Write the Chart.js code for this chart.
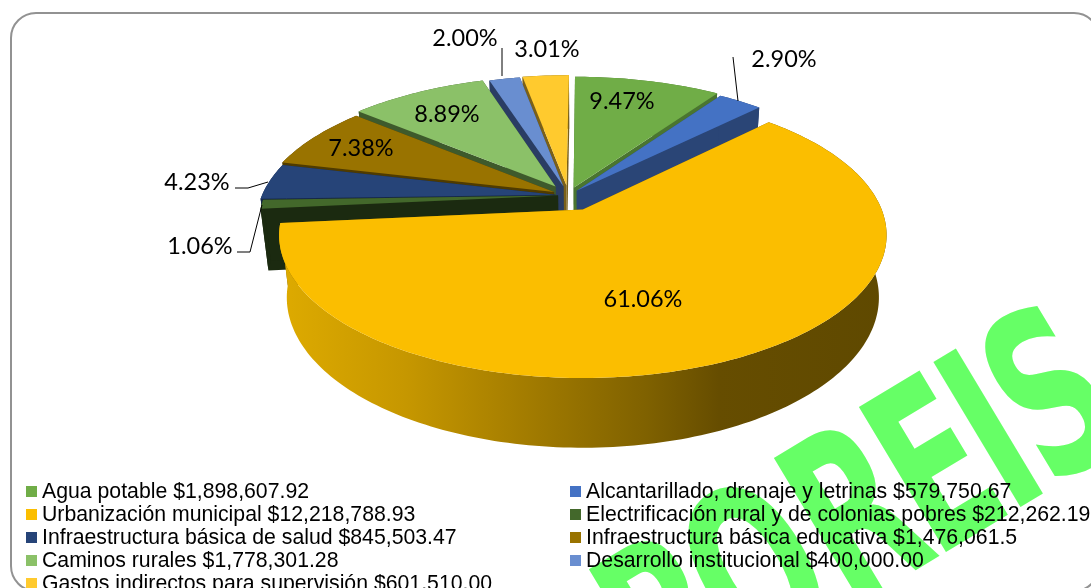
<!DOCTYPE html>
<html lang="es">
<head>
<meta charset="UTF-8">
<title>Distribución de la inversión</title>
<script src="https://cdn.jsdelivr.net/npm/chart.js"></script>
<style>
    html, body { margin: 0; padding: 0; background: #fff; overflow: hidden; }
    #wrap { position: relative; width: 1091px; height: 588px; overflow: hidden; }
    #panel {
        position: absolute; left: 10px; top: 12px; width: 1090px; height: 580px;
        border: 2px solid #929292; border-radius: 26px; box-sizing: border-box; background: #fff;
    }
    #pie { position: absolute; left: 0; top: 0; }
    #legend {
        position: absolute; left: 26px; top: 480px; width: 1065px;
        display: grid; grid-template-columns: 544px 521px; grid-auto-rows: 23px;
        font: 21.25px "Liberation Sans", Arial, sans-serif; color: #000; white-space: nowrap;
    }
    #legend div { display: flex; align-items: center; line-height: 23px; }
    #legend i { width: 11px; height: 11px; margin-right: 5px; flex: none; }
</style>
</head>
<body>
<div id="wrap">
    <div id="panel"></div>
    <canvas id="pie" width="1091" height="588"></canvas>
    <div id="legend"></div>
</div>

<script>
    const categories = [
        'Agua potable', 'Alcantarillado, drenaje y letrinas', 'Urbanización municipal',
        'Electrificación rural y de colonias pobres', 'Infraestructura básica de salud',
        'Infraestructura básica educativa', 'Caminos rurales', 'Desarrollo institucional',
        'Gastos indirectos para supervisión'
    ];
    const amounts = [1898607.92, 579750.67, 12218788.93, 212262.19, 845503.47, 1476061.5, 1778301.28, 400000.00, 601510.00];
    const amountLabels = ['$1,898,607.92', '$579,750.67', '$12,218,788.93', '$212,262.19', '$845,503.47', '$1,476,061.5', '$1,778,301.28', '$400,000.00', '$601,510.00'];
    const percentLabels = ['9.47%', '2.90%', '61.06%', '1.06%', '4.23%', '7.38%', '8.89%', '2.00%', '3.01%'];

    const topColors = ['#70AD47', '#4472C4', '#FBBE00', '#43682B', '#264478', '#997300', '#8BC168', '#698ED0', '#FFCA2E'];
    const sideColors = ['#4A7530', '#2A4576', '#7A5C00', '#1B2A10', '#16284A', '#4F3B00', '#3E5A2C', '#2A3D63', '#7A6019'];

    // where the percent labels sit (centre of the text)
    const labelSpots = [[622, 101], [784, 59], [643, 299], [200, 246], [197, 182], [361, 148], [447, 114], [465, 38], [547, 49]];
    const leaders = [
        [[733, 57], [738, 101]],
        [[502, 48], [502, 76]],
        [[235, 188], [248, 188], [268, 182]],
        [[237, 252], [250, 252], [262, 205]]
    ];

    // camera used to lay the pie on its side, fitted by eye
    const view = { x0: 583, y0: 207.5, rx: 298, ry: 137.5, persp: 0.18, depth: 63, sink: 0.025, cu: -0.05, cv: -0.09 };

    function project(u, v, z) {
        const s = 1 / (1 - view.persp * v + view.sink * z);
        return [view.x0 + view.rx * u * s, view.y0 + (view.ry * v + view.depth * z) * s];
    }

    function tracePath(ctx, pts) {
        ctx.beginPath();
        pts.forEach((p, i) => i ? ctx.lineTo(p[0], p[1]) : ctx.moveTo(p[0], p[1]));
        ctx.closePath();
    }

    function rimAngles(a0, a1) {
        const n = Math.max(2, Math.ceil((a1 - a0) / 0.02));
        const out = [];
        for (let i = 0; i <= n; i++) out.push(a0 + (a1 - a0) * i / n);
        return out;
    }

    const pie3d = {
        id: 'pie3d',
        beforeDraw(chart) {
            // green stamp behind everything, letters spaced by hand
            const ctx = chart.ctx;
            ctx.save();
            ctx.translate(686, 708);
            ctx.rotate(-31 * Math.PI / 180);
            ctx.scale(0.6, 1);
            ctx.fillStyle = '#66FF66';
            ctx.font = 'bold 232px "DejaVu Sans", sans-serif';
            [['B', -41], ['O', 119], ['R', 319], ['E', 484], ['I', 629], ['S', 708]].forEach(l => ctx.fillText(l[0], l[1], 0));
            ctx.restore();
        },
        beforeDatasetsDraw(chart) {
            const ctx = chart.ctx;
            const arcs = chart.getDatasetMeta(0).data.map((el, i) => ({
                i,
                a0: el.startAngle,
                a1: el.endAngle,
                mid: (el.startAngle + el.endAngle) / 2,
                off: el.options.offset / 100
            }));
            arcs.sort((a, b) => Math.sin(a.mid) - Math.sin(b.mid));

            arcs.forEach(arc => {
                const ou = view.cu + Math.cos(arc.mid) * arc.off;
                const ov = view.cv + Math.sin(arc.mid) * arc.off;
                const rim = rimAngles(arc.a0, arc.a1).map(a => [ou + Math.cos(a), ov + Math.sin(a)]);
                const first = rim[0], last = rim[rim.length - 1];
                const side = sideColors[arc.i];

                // radial cut faces
                [first, last].forEach(p => {
                    tracePath(ctx, [project(ou, ov, 0), project(p[0], p[1], 0), project(p[0], p[1], 1), project(ou, ov, 1)]);
                    ctx.fillStyle = side;
                    ctx.fill();
                });

                // outer wall, the big slice gets the horizontal shading
                const wall = rim.map(p => project(p[0], p[1], 0)).concat(rim.slice().reverse().map(p => project(p[0], p[1], 1)));
                tracePath(ctx, wall);
                if (arc.i === 2) {
                    const g = ctx.createLinearGradient(285, 0, 888, 0);
                    g.addColorStop(0, '#DDAA00');
                    g.addColorStop(0.2, '#C69700');
                    g.addColorStop(0.4, '#A37C00');
                    g.addColorStop(0.6, '#7F6100');
                    g.addColorStop(0.72, '#664D00');
                    g.addColorStop(1, '#5F4900');
                    ctx.fillStyle = g;
                } else {
                    ctx.fillStyle = side;
                }
                ctx.fill();

                // top
                tracePath(ctx, [project(ou, ov, 0)].concat(rim.map(p => project(p[0], p[1], 0))));
                ctx.fillStyle = topColors[arc.i];
                ctx.fill();
            });
            return false;
        },
        afterDraw(chart) {
            const ctx = chart.ctx;
            ctx.save();
            ctx.strokeStyle = '#000';
            ctx.lineWidth = 1;
            leaders.forEach(line => {
                ctx.beginPath();
                line.forEach((p, i) => i ? ctx.lineTo(p[0], p[1]) : ctx.moveTo(p[0], p[1]));
                ctx.stroke();
            });
            ctx.fillStyle = '#000';
            ctx.font = '23.5px Lato, "Open Sans", sans-serif';
            ctx.textAlign = 'center';
            ctx.textBaseline = 'middle';
            percentLabels.forEach((t, i) => ctx.fillText(t, labelSpots[i][0], labelSpots[i][1]));
            ctx.restore();
        }
    };

    new Chart(document.getElementById('pie'), {
        type: 'pie',
        data: {
            labels: categories,
            datasets: [{
                data: amounts,
                backgroundColor: topColors,
                offset: [6, 4.5, 11.5, 3.5, 4.5, 5.5, 8, 7, 7.5]
            }]
        },
        options: {
            responsive: false,
            animation: false,
            events: [],
            plugins: { legend: { display: false }, tooltip: { enabled: false } }
        },
        plugins: [pie3d]
    });

    const legend = document.getElementById('legend');
    categories.forEach((name, i) => {
        const row = document.createElement('div');
        const box = document.createElement('i');
        box.style.background = topColors[i];
        row.appendChild(box);
        row.appendChild(document.createTextNode(name + ' ' + amountLabels[i]));
        legend.appendChild(row);
    });
</script>
</body>
</html>
